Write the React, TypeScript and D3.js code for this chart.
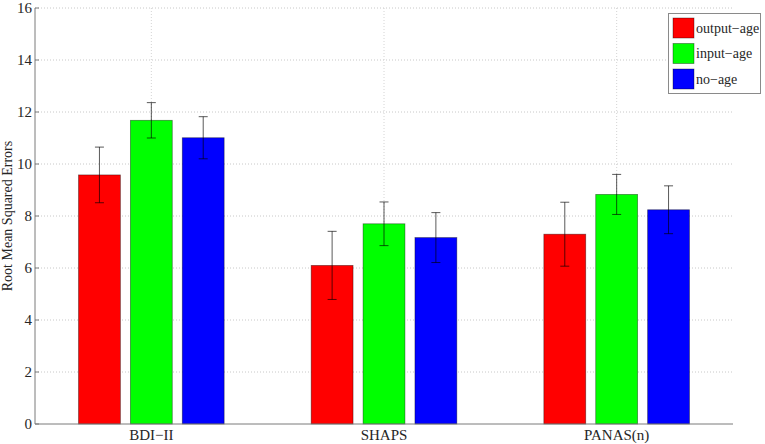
import React from "react";
import * as d3 from "d3";

const categories = ["BDI−II", "SHAPS", "PANAS(n)"];
const seriesNames = ["output−age", "input−age", "no−age"];
const seriesColors = ["#ff0000", "#00ff00", "#0000ff"];
const outputAge = [9.58, 6.1, 7.3];
const inputAge = [11.68, 7.7, 8.83];
const noAge = [11.01, 7.17, 8.24];
const outputAgeErr = [1.07, 1.31, 1.23];
const inputAgeErr = [0.68, 0.84, 0.77];
const noAgeErr = [0.81, 0.96, 0.92];
const yTicks = [0, 2, 4, 6, 8, 10, 12, 14, 16];

const values = [outputAge, inputAge, noAge];
const errors = [outputAgeErr, inputAgeErr, noAgeErr];

const W = 765;
const H = 444;
const left = 35;
const right = 733;
const top = 8;
const bottom = 424;

export default function App() {
  const x = d3.scaleLinear().domain([0.5, 3.5]).range([left, right]);
  const y = d3.scaleLinear().domain([0, 16]).range([bottom, top]);
  const offsets = [-0.223, 0, 0.223];
  const bw = 0.18;
  const font = "\"Liberation Serif\", \"DejaVu Serif\", \"Times New Roman\", serif";
  const textColor = "#262626";
  const ts = { fontFamily: font };

  return (
    <svg
      width={W}
      height={H}
      style={{ position: "absolute", left: 0, top: 0, background: "#fff", fontFamily: font }}
    >
      <rect x={0} y={0} width={W} height={H} fill="#fff" />
      {yTicks.slice(1).map((t) => (
        <line
          key={"g" + t}
          x1={left}
          x2={right}
          y1={y(t)}
          y2={y(t)}
          stroke="#c8c8c8"
          strokeWidth={1}
          strokeDasharray="1,2"
        />
      ))}
      {categories.map((c, i) => (
        <line
          key={"vg" + c}
          x1={x(i + 1)}
          x2={x(i + 1)}
          y1={top}
          y2={bottom}
          stroke="#d4d4d4"
          strokeWidth={1}
          strokeDasharray="1,2"
        />
      ))}
      {values.map((vals, s) =>
        vals.map((v, i) => {
          const cx = i + 1 + offsets[s];
          const x0 = x(cx - bw / 2);
          const x1 = x(cx + bw / 2);
          return (
            <rect
              key={"b" + s + "-" + i}
              x={x0}
              y={y(v)}
              width={x1 - x0}
              height={y(0) - y(v)}
              fill={seriesColors[s]}
              stroke="#000"
              strokeOpacity={0.45}
              strokeWidth={0.8}
            />
          );
        })
      )}
      {values.map((vals, s) =>
        vals.map((v, i) => {
          const cx = x(i + 1 + offsets[s]);
          const e = errors[s][i];
          const yt = y(v + e);
          const yb = y(v - e);
          return (
            <g key={"e" + s + "-" + i} stroke="#000" strokeOpacity={0.65} strokeWidth={1}>
              <line x1={cx} x2={cx} y1={yt} y2={yb} />
              <line x1={cx - 4.5} x2={cx + 4.5} y1={yt} y2={yt} />
              <line x1={cx - 4.5} x2={cx + 4.5} y1={yb} y2={yb} />
            </g>
          );
        })
      )}
      <line x1={left} x2={left} y1={top} y2={bottom} stroke="#7a7a7a" strokeWidth={1} />
      <line x1={left} x2={right} y1={bottom} y2={bottom} stroke="#7a7a7a" strokeWidth={1} />
      {yTicks.map((t) => (
        <g key={"t" + t}>
          <line x1={left} x2={left + 4} y1={y(t)} y2={y(t)} stroke="#7a7a7a" strokeWidth={1} />
          <text
            x={left - 3}
            y={y(t)}
            dy="0.35em"
            textAnchor="end"
            fontSize={15}
            fill={textColor}
            style={ts}
          >
            {t}
          </text>
        </g>
      ))}
      {categories.map((c, i) => (
        <text
          key={"xl" + c}
          x={x(i + 1)}
          y={bottom + 16}
          textAnchor="middle"
          fontSize={15}
          fill={textColor}
          style={ts}
        >
          {c}
        </text>
      ))}
      <text
        transform={`translate(12, ${(top + bottom) / 2}) rotate(-90)`}
        textAnchor="middle"
        fontSize={14}
        fill={textColor}
        style={ts}
      >
        Root Mean Squared Errors
      </text>
      <g>
        <rect x={668.5} y={13.5} width={92} height={80} fill="#fff" stroke="#8a8a8a" strokeWidth={1} />
        {seriesNames.map((n, s) => (
          <g key={"l" + n}>
            <rect
              x={673}
              y={18 + s * 25.5}
              width={21}
              height={20}
              fill={seriesColors[s]}
              stroke="#000"
              strokeOpacity={0.45}
              strokeWidth={0.8}
            />
            <text x={696} y={28 + s * 25.5} dy="0.35em" fontSize={14} fill={textColor} style={ts}>
              {n}
            </text>
          </g>
        ))}
      </g>
    </svg>
  );
}
